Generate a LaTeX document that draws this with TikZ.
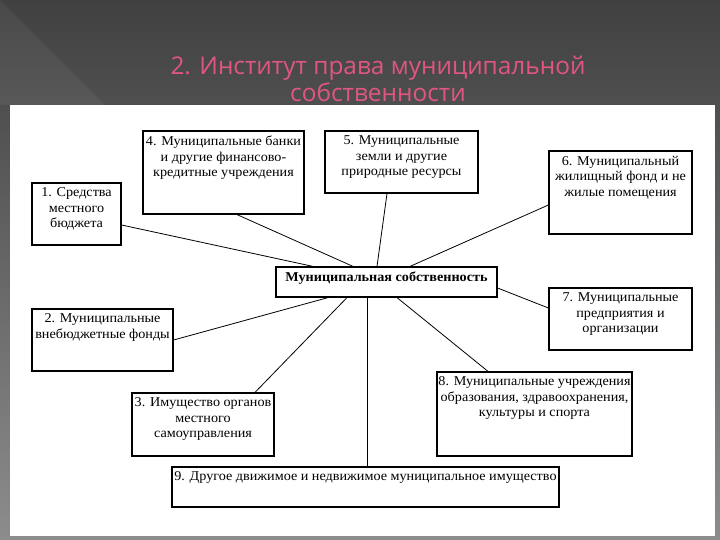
\documentclass[tikz,border=0pt]{standalone}
\usepackage{fontspec}
\setmainfont{Liberation Serif}[FakeStretch=1.05]
\newfontfamily\titlefont{Open Sans}

\definecolor{titlepink}{RGB}{224,86,128}
\definecolor{bgtop}{RGB}{64,64,64}
\definecolor{bgbottom}{RGB}{140,140,140}

% top-aligned, centred text of a fixed box
\newcommand{\boxtext}[3]{\parbox[c][#2][t]{#1}{\centering\vspace*{5pt}#3}}

\begin{document}
\begin{tikzpicture}[x=1pt, y=-1pt,
        % --- Styles ---
        box/.style={
            draw=black, line width=1.2pt, fill=white, inner sep=0pt,
            font=\fontsize{13.5}{15.5}\selectfont
        },
        link/.style={draw=black, line width=0.8pt},
        title/.style={
            font=\titlefont\fontsize{24.4}{27}\selectfont,
            text=titlepink, align=center
        },
    ]

    % ===== Slide background =====
    \useasboundingbox (0,0) rectangle (720,540);
    \shade[top color=bgtop, bottom color=bgbottom] (0,0) rectangle (720,540);
    \fill[white, opacity=0.05] (0,0) -- (105,105) -- (0,105) -- cycle;
    \fill[white] (10,105) rectangle (715,536);

    % ===== Title =====
    \node[title] (title) at (378,79) {2. Институт права муниципальной\\собственности};

    % ===== Centre =====
    \node[box] (mc) at (386.5,282) {\boxtext{221pt}{30pt}{\bfseries Муниципальная собственность}};

    % ===== Upper row =====
    \node[box] (b1) at (76.5,214)   {\boxtext{89pt}{62pt}{1. Средства\\местного\\бюджета}};
    \node[box] (b4) at (223.5,172.5) {\boxtext{161pt}{83pt}{4. Муниципальные банки\\и другие финансово-\\кредитные учреждения}};
    \node[box] (b5) at (401.5,162)  {\boxtext{153pt}{62pt}{5. Муниципальные\\земли и другие\\природные ресурсы}};
    \node[box] (b6) at (620.5,192.5) {\boxtext{143pt}{83pt}{6. Муниципальный\\жилищный фонд и не\\жилые помещения}};

    % ===== Lower row =====
    \node[box] (b2) at (102.5,340)  {\boxtext{141pt}{62pt}{2. Муниципальные\\внебюджетные фонды}};
    \node[box] (b7) at (620.5,319)  {\boxtext{143pt}{62pt}{7. Муниципальные\\предприятия и\\организации}};
    \node[box] (b3) at (203,424.5)  {\boxtext{142pt}{63pt}{3. Имущество органов\\местного\\самоуправления}};
    \node[box] (b8) at (534.5,414)  {\boxtext{195pt}{84pt}{8. Муниципальные учреждения\\образования, здравоохранения,\\культуры и спорта}};
    \node[box] (b9) at (365.5,487)  {\boxtext{387pt}{40pt}{9. Другое движимое и недвижимое муниципальное имущество}};

    % ===== Links =====
    \draw[link] ([yshift=-11pt]b1.east) -- ([xshift=-73.5pt]mc.north);
    \draw[link] ([xshift=13.5pt]b4.south) -- ([xshift=-33.5pt]mc.north);
    \draw[link] ([xshift=-14.5pt]b5.south) -- ([xshift=-9.5pt]mc.north);
    \draw[link] ([yshift=-12.5pt]b6.west) -- ([xshift=23.5pt]mc.north);
    \draw[link] ([yshift=-6pt]mc.east) -- ([yshift=11pt]b7.west);
    \draw[link] ([xshift=10.5pt]mc.south) -- ([xshift=-46.5pt]b8.north);
    \draw[link] ([xshift=-19.5pt]mc.south) coordinate (m9) -- (m9 |- b9.north);
    \draw[link] (b2.east) -- ([xshift=-58.5pt]mc.south);
    \draw[link] ([xshift=52pt]b3.north) -- ([xshift=-39.5pt]mc.south);

\end{tikzpicture}
\end{document}
